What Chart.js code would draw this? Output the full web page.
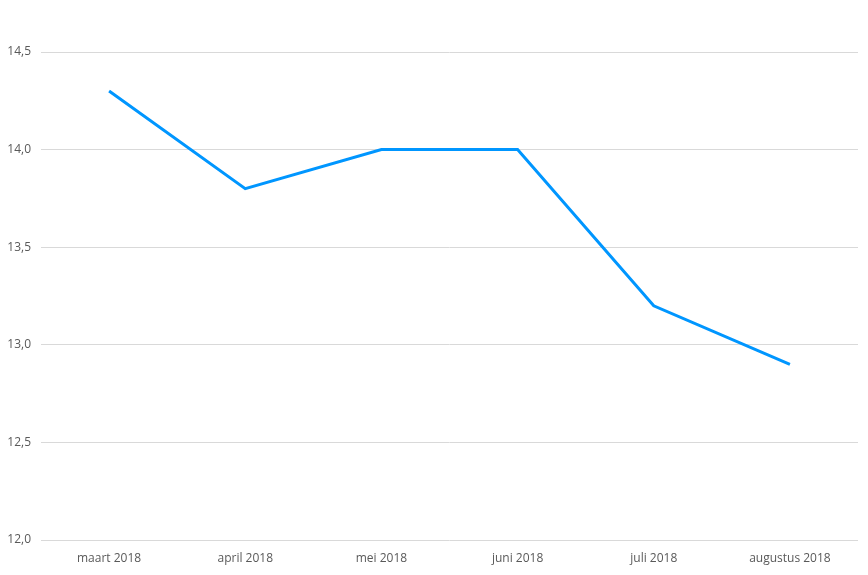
<!DOCTYPE html>
<html>
<head>
<meta charset="utf-8">
<script src="https://cdn.jsdelivr.net/npm/chart.js@4/dist/chart.umd.min.js"></script>
<style>
  html, body { margin: 0; padding: 0; background: #fff; }
  #wrap { width: 868px; height: 575px; }
</style>
</head>
<body>
<div id="wrap"><canvas id="chart"></canvas></div>
<script>
const months = ["maart 2018", "april 2018", "mei 2018", "juni 2018", "juli 2018", "augustus 2018"];
const values = [14.3, 13.8, 14.0, 14.0, 13.2, 12.9];
const yMin = 12.0;
const yMax = 14.5;
const yStep = 0.5;

const textColor = "#595959";
const gridColor = "#d9d9d9";
const font = { family: "'Open Sans', 'Liberation Sans', sans-serif", size: 12 };

new Chart(document.getElementById("chart"), {
  type: "line",
  data: {
    labels: months,
    datasets: [
      {
        data: values,
        borderColor: "#0096ff",
        borderWidth: 3,
        pointRadius: 0,
        tension: 0,
        fill: false
      }
    ]
  },
  options: {
    responsive: true,
    maintainAspectRatio: false,
    animation: false,
    layout: {
      padding: { top: 52, right: 10, left: 0, bottom: 0 }
    },
    plugins: {
      legend: { display: false },
      tooltip: { enabled: false }
    },
    scales: {
      x: {
        offset: true,
        grid: { display: false },
        border: { display: false },
        ticks: { color: textColor, font: font, padding: 3, maxRotation: 0 },
        afterFit: scale => { scale.height = 35; }
      },
      y: {
        min: yMin,
        max: yMax,
        grid: { color: gridColor, drawTicks: false },
        border: { display: false },
        ticks: {
          stepSize: yStep,
          color: textColor,
          font: font,
          padding: 10,
          callback: v => v.toFixed(1).replace(".", ",")
        },
        afterFit: scale => { scale.width = 41; }
      }
    }
  }
});
</script>
</body>
</html>
